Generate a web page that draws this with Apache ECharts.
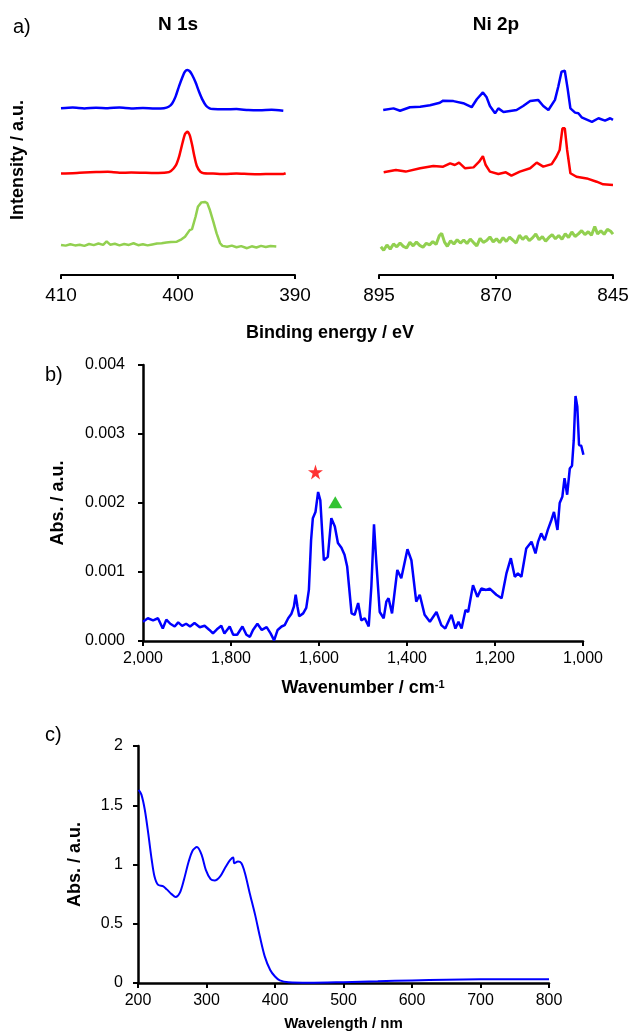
<!DOCTYPE html>
<html>
<head>
<meta charset="utf-8">
<script src="https://cdn.jsdelivr.net/npm/echarts@6/dist/echarts.min.js"></script>
<style>
html,body{margin:0;padding:0;background:#fff;}
#chart{width:630px;height:1035px;}
</style>
</head>
<body>
<div id="chart"></div>
<script>
// ---------- Panel a: XPS (display offsets included, arbitrary units) ----------
const n1sBlue = [[410,71.0],[409,71.3],[408,70.9],[407,71.2],[406,71.0],[405,71.3],[404,70.9],[403,71.1],[402,70.9],[401.2,71.0],[400.8,71.6],[400.5,73.0],[400.2,76.0],[399.9,80.5],[399.6,84.5],[399.4,86.6],[399.2,87.2],[399.0,86.7],[398.8,85.2],[398.5,82.0],[398.2,78.0],[397.9,74.5],[397.6,72.0],[397.3,70.9],[397.0,70.6],[396,70.5],[395,70.6],[394,70.2],[393,70.1],[392,70.3],[391,69.9]];
const n1sRed = [[410,43.2],[409,43.3],[408,43.6],[407,43.8],[406,43.9],[405,43.5],[404,43.6],[403,43.5],[402,43.4],[401,43.6],[400.6,44.3],[400.2,46.5],[399.9,50.5],[399.6,56.5],[399.4,60.0],[399.2,61.0],[399.0,59.5],[398.8,55.5],[398.6,50.5],[398.4,46.5],[398.1,44.0],[397.8,43.3],[397,43.2],[396,43.0],[395,43.2],[394,43.0],[393,42.9],[392,43.0],[391,43.0],[390.8,43.3]];
const n1sGreen = [[410,12.8],[409.6,12.5],[409.2,13.1],[408.8,12.6],[408.4,12.9],[408,12.4],[407.6,13.2],[407.2,12.7],[406.8,13.4],[406.4,12.8],[406.1,14.3],[405.8,12.9],[405.4,13.3],[405,12.6],[404.6,13.2],[404.2,12.8],[403.8,13.5],[403.4,12.7],[403,13.1],[402.6,12.6],[402.2,13.0],[401.8,13.4],[401.4,13.5],[401,13.8],[400.6,14.0],[400.1,14.2],[399.7,15.2],[399.4,16.3],[399.0,19.1],[398.8,19.5],[398.5,24.8],[398.3,29.0],[398.0,30.9],[397.7,31.1],[397.5,30.6],[397.3,28.0],[397.0,23.0],[396.7,17.7],[396.4,13.5],[396.2,12.4],[395.8,12.0],[395.4,12.5],[395,11.8],[394.6,12.3],[394.1,11.4],[393.7,12.2],[393.3,11.7],[392.9,12.4],[392.5,11.9],[392.1,12.3],[391.6,12.1]];

const ni2pBlue = [[894.1,70.2],[891.9,70.9],[890.5,69.9],[888.4,71.4],[886.2,71.6],[884.1,72.2],[882.0,73.3],[881.3,74.2],[879.1,74.0],[877.0,73.1],[875.2,71.4],[874.1,74.8],[872.8,77.7],[872.0,75.6],[871.3,71.9],[870.2,68.8],[869.5,70.9],[868.4,69.4],[867.0,69.8],[865.6,70.2],[864.2,71.9],[862.7,74.0],[861.0,74.5],[859.9,71.9],[858.8,70.2],[857.4,74.5],[856.7,80.1],[856.0,86.5],[855.3,86.9],[854.7,79.4],[854.1,70.9],[853.1,69.1],[852.4,68.8],[851.7,67.1],[849.5,65.2],[848.1,66.7],[846.7,65.7],[845.6,66.7],[845.0,66.0]];
const ni2pRed = [[894.0,43.7],[891.4,44.7],[889.3,44.0],[886.2,45.4],[883.4,46.4],[881.3,46.1],[879.8,47.5],[878.8,46.8],[877.9,47.8],[876.6,45.4],[874.8,45.8],[873.6,48.2],[872.8,50.6],[872.2,46.8],[871.3,44.0],[869.5,43.0],[867.9,43.7],[866.7,42.3],[864.9,44.0],[862.7,45.4],[861.3,47.8],[859.9,46.1],[858.1,47.2],[857.1,50.3],[856.4,53.2],[855.8,62.4],[855.3,62.4],[854.8,53.2],[854.1,43.3],[852.8,41.8],[850.6,41.1],[848.5,39.7],[847.1,38.6],[845.0,38.3]];
const ni2pGreen = [[894.6,12.0],[894.0,10.5],[893.3,12.8],[892.6,11.0],[891.9,13.2],[891.2,12.0],[890.5,13.6],[889.8,12.2],[889.1,11.5],[888.4,13.9],[887.7,12.4],[887.0,14.0],[886.3,12.6],[885.6,11.8],[884.9,13.5],[884.2,12.8],[883.5,14.2],[882.8,13.0],[882.1,16.8],[881.6,17.7],[881.0,14.0],[880.4,12.2],[879.7,14.6],[879.0,13.2],[878.3,15.0],[877.6,13.6],[876.9,14.9],[876.2,13.4],[875.5,15.3],[874.8,13.8],[874.1,12.4],[873.4,15.6],[872.7,13.9],[872.0,14.7],[871.3,16.2],[870.6,14.1],[869.9,15.4],[869.2,13.8],[868.5,15.9],[867.8,14.3],[867.1,16.1],[866.4,14.8],[865.7,13.6],[865.0,16.9],[864.3,15.2],[863.6,16.5],[862.9,14.6],[862.2,15.8],[861.5,17.4],[860.8,15.0],[860.1,16.3],[859.4,14.4],[858.7,16.0],[858.0,17.2],[857.3,15.4],[856.6,16.8],[855.9,15.2],[855.2,17.6],[854.5,16.0],[853.8,18.3],[853.1,16.4],[852.4,17.5],[851.7,18.9],[851.0,17.2],[850.3,18.4],[849.6,16.9],[848.9,20.6],[848.3,17.5],[847.6,18.8],[846.9,17.3],[846.2,19.4],[845.5,18.6],[845.0,17.4]];
const n1sTicks = [410, 400, 390];
const ni2pTicks = [895, 870, 845];

// ---------- Panel b: IR ----------
const irSpectrum = [[2000,0.00028],[1989,0.00033],[1977,0.0003],[1966,0.00033],[1955,0.00018],[1947,0.00031],[1938,0.00025],[1928,0.00021],[1920,0.00027],[1911,0.00022],[1902,0.00025],[1893,0.00021],[1883,0.00026],[1871,0.0002],[1860,0.00022],[1849,0.00016],[1841,0.00011],[1832,0.00017],[1822,0.00022],[1815,0.00011],[1803,0.00021],[1795,0.00009],[1786,0.00009],[1774,0.00021],[1765,0.00009],[1757,0.00006],[1750,0.00016],[1740,0.00025],[1730,0.00016],[1719,0.0002],[1710,0.00011],[1702,0.00001],[1694,0.00016],[1685,0.00021],[1678,0.00023],[1670,0.00033],[1663,0.00039],[1657,0.0005],[1653,0.00067],[1649,0.0005],[1645,0.00036],[1636,0.0004],[1629,0.00048],[1623,0.00074],[1618,0.00146],[1614,0.00178],[1608,0.00187],[1602,0.00216],[1597,0.00204],[1589,0.00117],[1580,0.00122],[1572,0.00178],[1564,0.00166],[1557,0.00142],[1549,0.00135],[1542,0.00125],[1536,0.00108],[1526,0.0004],[1519,0.00038],[1511,0.00055],[1504,0.0003],[1496,0.00033],[1487,0.00021],[1481,0.00079],[1475,0.00169],[1470,0.00117],[1462,0.00042],[1453,0.00033],[1447,0.00057],[1442,0.00062],[1434,0.0004],[1422,0.00103],[1413,0.00091],[1399,0.00133],[1390,0.00117],[1379,0.00057],[1371,0.00067],[1360,0.00038],[1348,0.00028],[1333,0.00042],[1322,0.00023],[1313,0.00018],[1299,0.00038],[1290,0.00018],[1283,0.00028],[1276,0.00018],[1267,0.00045],[1261,0.00042],[1250,0.00081],[1240,0.00064],[1231,0.00076],[1220,0.00074],[1212,0.00076],[1197,0.00067],[1185,0.00062],[1174,0.00098],[1164,0.0012],[1155,0.00093],[1148,0.00098],[1140,0.00093],[1129,0.00134],[1117,0.00144],[1108,0.00127],[1102,0.00144],[1095,0.00156],[1087,0.00146],[1080,0.00161],[1072,0.00175],[1066,0.00187],[1058,0.00161],[1053,0.002],[1047,0.00209],[1042,0.00236],[1036,0.00212],[1030,0.0025],[1025,0.00254],[1021,0.00291],[1017,0.00355],[1013,0.0034],[1009,0.00284],[1004,0.00283],[999,0.0027]];
const starMark = [[1608, 0.00245]];
const triangleMark = [[1563, 0.00201]];

// ---------- Panel c: UV-vis ----------
const uvSpectrum = [[201,1.63],[205,1.59],[210,1.46],[215,1.26],[220,1.04],[224,0.9],[229,0.83],[237,0.815],[242,0.79],[249,0.75],[255,0.725],[261,0.76],[267,0.87],[274,1.025],[280,1.12],[286,1.147],[293,1.08],[299,0.955],[306,0.877],[312,0.865],[320,0.9],[327,0.97],[334,1.035],[339,1.06],[340.5,1.01],[346,1.025],[351,1.01],[356,0.93],[363,0.76],[371,0.575],[378,0.39],[385,0.225],[393,0.11],[400,0.055],[407,0.022],[420,0.006],[450,0.002],[500,0.007],[550,0.014],[600,0.022],[650,0.027],[700,0.031],[750,0.032],[800,0.032]];

const FONT = "'Liberation Sans', Arial, Helvetica, sans-serif";
const BLUE = '#0000FF', RED = '#FF0000', GREEN = '#92D050';

const chart = echarts.init(document.getElementById('chart'), null, {renderer: 'canvas'});

function commaFmt(v) { return String(v).replace(/\B(?=(\d{3})+(?!\d))/g, ','); }

const blackAxis = {lineStyle: {color: '#000', width: 2.5}};

const option = {
  backgroundColor: '#fff',
  animation: false,
  textStyle: {fontFamily: FONT},
  grid: [
    {left: 61, width: 234, top: 40, height: 235, outerBoundsMode: 'none'},
    {left: 379, width: 234, top: 40, height: 235, outerBoundsMode: 'none'},
    {left: 143, width: 440, top: 365, height: 276, outerBoundsMode: 'none'},
    {left: 138, width: 411, top: 746, height: 237, outerBoundsMode: 'none'}
  ],
  xAxis: [
    {gridIndex: 0, type: 'value', min: 390, max: 410, interval: 10, inverse: true,
     axisLine: {show: true, onZero: false, lineStyle: {color: '#000', width: 2}},
     axisTick: {show: true, length: 4, customValues: n1sTicks, lineStyle: {color: '#000', width: 2}},
     axisLabel: {customValues: n1sTicks, fontSize: 19, color: '#000', margin: 11, fontFamily: FONT},
     splitLine: {show: false}},
    {gridIndex: 1, type: 'value', min: 845, max: 895, inverse: true,
     axisLine: {show: true, onZero: false, lineStyle: {color: '#000', width: 2}},
     axisTick: {show: true, length: 4, customValues: ni2pTicks, lineStyle: {color: '#000', width: 2}},
     axisLabel: {customValues: ni2pTicks, fontSize: 19, color: '#000', margin: 11, fontFamily: FONT},
     splitLine: {show: false}},
    {gridIndex: 2, type: 'value', min: 1000, max: 2000, interval: 200, inverse: true,
     axisLine: {show: true, onZero: false, lineStyle: {color: '#000', width: 2.5}},
     axisTick: {show: true, length: 5, lineStyle: {color: '#000', width: 2}},
     axisLabel: {fontSize: 16, color: '#000', margin: 10, formatter: commaFmt, fontFamily: FONT},
     splitLine: {show: false},
     name: '{t|Wavenumber / cm}{s|-1}', nameLocation: 'middle', nameGap: 38,
     nameTextStyle: {rich: {
       t: {fontSize: 18, fontWeight: 'bold', color: '#000', fontFamily: FONT},
       s: {fontSize: 11, fontWeight: 'bold', color: '#000', fontFamily: FONT, verticalAlign: 'top'}
     }}},
    {gridIndex: 3, type: 'value', min: 200, max: 800, interval: 100,
     axisLine: {show: true, onZero: false, lineStyle: {color: '#000', width: 2.5}},
     axisTick: {show: true, length: 5, lineStyle: {color: '#000', width: 2}},
     axisLabel: {fontSize: 16, color: '#000', margin: 10, fontFamily: FONT},
     splitLine: {show: false},
     name: 'Wavelength / nm', nameLocation: 'middle', nameGap: 33,
     nameTextStyle: {fontSize: 15, fontWeight: 'bold', color: '#000', fontFamily: FONT}}
  ],
  yAxis: [
    {gridIndex: 0, type: 'value', min: 0, max: 100, show: false, splitLine: {show: false}},
    {gridIndex: 1, type: 'value', min: 0, max: 100, show: false, splitLine: {show: false}},
    {gridIndex: 2, type: 'value', min: 0, max: 0.004, interval: 0.001,
     axisLine: {show: true, onZero: false, lineStyle: {color: '#000', width: 2.5}},
     axisTick: {show: true, length: 5, lineStyle: {color: '#000', width: 2}},
     axisLabel: {fontSize: 16, color: '#000', margin: 18, formatter: v => v.toFixed(3), fontFamily: FONT},
     splitLine: {show: false},
     name: 'Abs. / a.u.', nameLocation: 'middle', nameRotate: 90, nameGap: 76,
     nameTextStyle: {fontSize: 18, fontWeight: 'bold', color: '#000', fontFamily: FONT}},
    {gridIndex: 3, type: 'value', min: 0, max: 2, interval: 0.5,
     axisLine: {show: true, onZero: false, lineStyle: {color: '#000', width: 2.5}},
     axisTick: {show: true, length: 5, lineStyle: {color: '#000', width: 2}},
     axisLabel: {fontSize: 16, color: '#000', margin: 15, fontFamily: FONT},
     splitLine: {show: false},
     name: 'Abs. / a.u.', nameLocation: 'middle', nameRotate: 90, nameGap: 54,
     nameTextStyle: {fontSize: 18, fontWeight: 'bold', color: '#000', fontFamily: FONT}}
  ],
  graphic: [
    {type: 'text', left: 13, top: 17, style: {text: 'a)', font: '20px ' + FONT, fill: '#000'}},
    {type: 'text', x: 178, y: 25, style: {text: 'N 1s', font: 'bold 19px ' + FONT, fill: '#000', textAlign: 'center', textVerticalAlign: 'middle'}},
    {type: 'text', x: 496, y: 25, style: {text: 'Ni 2p', font: 'bold 19px ' + FONT, fill: '#000', textAlign: 'center', textVerticalAlign: 'middle'}},
    {type: 'text', x: 18, y: 160, rotation: Math.PI / 2, style: {text: 'Intensity / a.u.', font: 'bold 18px ' + FONT, fill: '#000', textAlign: 'center', textVerticalAlign: 'middle'}},
    {type: 'text', x: 330, y: 333, style: {text: 'Binding energy / eV', font: 'bold 18px ' + FONT, fill: '#000', textAlign: 'center', textVerticalAlign: 'middle'}},
    {type: 'text', left: 45, top: 365, style: {text: 'b)', font: '20px ' + FONT, fill: '#000'}},
    {type: 'text', left: 45, top: 725, style: {text: 'c)', font: '20px ' + FONT, fill: '#000'}}
  ],
  series: [
    {type: 'line', xAxisIndex: 0, yAxisIndex: 0, data: n1sBlue, showSymbol: false, smooth: 0.2, lineStyle: {color: BLUE, width: 2.5}},
    {type: 'line', xAxisIndex: 0, yAxisIndex: 0, data: n1sRed, showSymbol: false, smooth: 0.2, lineStyle: {color: RED, width: 2.5}},
    {type: 'line', xAxisIndex: 0, yAxisIndex: 0, data: n1sGreen, showSymbol: false, lineStyle: {color: GREEN, width: 2.5}},
    {type: 'line', xAxisIndex: 1, yAxisIndex: 1, data: ni2pBlue, showSymbol: false, lineStyle: {color: BLUE, width: 2.5}},
    {type: 'line', xAxisIndex: 1, yAxisIndex: 1, data: ni2pRed, showSymbol: false, lineStyle: {color: RED, width: 2.5}},
    {type: 'line', xAxisIndex: 1, yAxisIndex: 1, data: ni2pGreen, showSymbol: false, lineStyle: {color: GREEN, width: 3}},
    {type: 'line', xAxisIndex: 2, yAxisIndex: 2, data: irSpectrum, showSymbol: false, lineStyle: {color: BLUE, width: 2.5}},
    {type: 'scatter', xAxisIndex: 2, yAxisIndex: 2, data: starMark, symbol: 'path://M50,0 L61,35 L98,35 L68,57 L79,91 L50,70 L21,91 L32,57 L2,35 L39,35 Z', symbolSize: 15, itemStyle: {color: RED}},
    {type: 'scatter', xAxisIndex: 2, yAxisIndex: 2, data: triangleMark, symbol: 'triangle', symbolSize: [14, 12], itemStyle: {color: '#00B400'}},
    {type: 'line', xAxisIndex: 3, yAxisIndex: 3, data: uvSpectrum, showSymbol: false, smooth: 0.3, lineStyle: {color: BLUE, width: 2}}
  ]
};
chart.setOption(option);
</script>
</body>
</html>
